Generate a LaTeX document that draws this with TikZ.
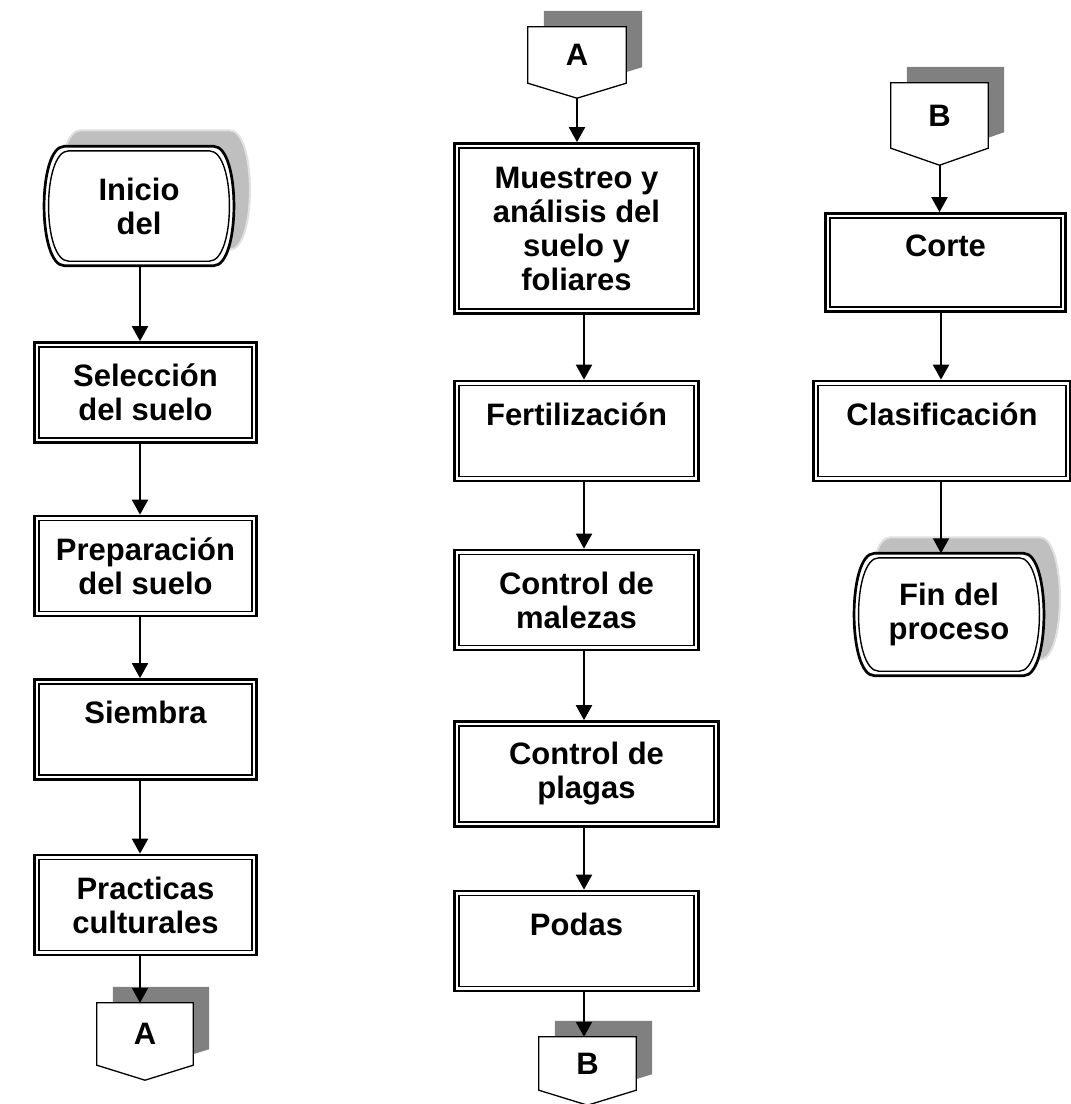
\documentclass[tikz,border=0pt]{standalone}
\usepackage{fontspec}
\setmainfont{Liberation Sans}
\usetikzlibrary{arrows.meta,backgrounds}

% outline of a terminal: node, inset, offset
\newcommand{\termpath}[3]{%
  ([shift={#3},shift={(20pt+#2,-#2)}]#1.north west)
  -- ([shift={#3},shift={(-20pt-#2,-#2)}]#1.north east)
  .. controls ([shift={#3},shift={(7pt-#2,-#2)}]#1.north east)
  and ([shift={#3},shift={(7pt-#2,#2)}]#1.south east)
  .. ([shift={#3},shift={(-20pt-#2,#2)}]#1.south east)
  -- ([shift={#3},shift={(20pt+#2,#2)}]#1.south west)
  .. controls ([shift={#3},shift={(-7pt+#2,#2)}]#1.south west)
  and ([shift={#3},shift={(-7pt+#2,-#2)}]#1.north west)
  .. ([shift={#3},shift={(20pt+#2,-#2)}]#1.north west) -- cycle}

% outline of an off-page connector: node, point depth, offset
\newcommand{\connpath}[3]{%
  ([shift={#3}]#1.north west) -- ([shift={#3}]#1.north east)
  -- ([shift={#3}]#1.south east) -- ([shift={#3},yshift=-#2]#1.south)
  -- ([shift={#3}]#1.south west) -- cycle}

\begin{document}
\begin{tikzpicture}[x=1pt,y=-1pt,
    font=\fontsize{31pt}{34pt}\selectfont\bfseries,
    proc/.style={draw,line width=2.7pt,minimum width=222pt,minimum height=100pt,
      inner sep=0pt,align=center,
      path picture={\draw[line width=1.4pt]
        ([shift={(4.5pt,-4.5pt)}]path picture bounding box.north west) rectangle
        ([shift={(-4.5pt,4.5pt)}]path picture bounding box.south east);}},
    term/.style={minimum width=189pt,minimum height=119pt,inner sep=0pt,align=center},
    conn/.style={minimum width=96pt,inner sep=0pt},
    flow/.style={line width=2pt,-{Triangle[length=15pt,width=16pt]}}]
\useasboundingbox (0,0) rectangle (1071,1104);

% first column
\node[term] (ini) at (139,206) {Inicio\\del};
\node[proc] (sel) at (145.5,392.5) {Selección\\del suelo};
\node[proc] (prep) at (145.5,566) {Preparación\\del suelo};
\node[proc] (siem) at (145.5,729.5) {Siembra\\~};
\node[proc] (prac) at (145.5,905) {Practicas\\culturales};
\node[conn,minimum height=62pt] (ca1) at (145,1034) {A};

% second column
\node[conn,minimum width=98pt,minimum height=56pt] (ca2) at (577,55) {A};
\node[proc,minimum width=244pt,minimum height=170pt] (mue) at (576.5,228.5)
  {Muestreo y\\análisis del\\suelo y\\foliares};
\node[proc,minimum width=244pt] (fert) at (576.5,431) {Fertilización\\~};
\node[proc,minimum width=244pt] (male) at (576.5,600) {Control de\\malezas};
\node[proc,minimum width=264pt,minimum height=105pt] (plag) at (586.5,774) {Control de\\plagas};
\node[proc,minimum width=244pt] (pod) at (576.5,941) {Podas\\~};
\node[conn,minimum width=97pt,minimum height=53pt] (cb2) at (587.5,1063.5) {B};

% third column
\node[conn,minimum width=97pt,minimum height=65pt] (cb3) at (939.5,115.5) {B};
\node[proc,minimum width=240pt,minimum height=98pt] (cor) at (945.5,262.5) {Corte\\~};
\node[proc,minimum width=257pt] (clas) at (942,431) {Clasificación\\~};
\node[term,minimum height=122pt] (fin) at (949,614.5) {Fin del\\proceso};

% arrows
\coordinate (c1) at (140,0);
\coordinate (c2) at (584,0);
\coordinate (c3) at (941,0);
\foreach \src/\dst/\col in {ini/sel/c1,sel/prep/c1,prep/siem/c1,siem/prac/c1,prac/ca1/c1,
    mue/fert/c2,fert/male/c2,male/plag/c2,plag/pod/c2,pod/cb2/c2,
    cor/clas/c3,clas/fin/c3}
  \draw[flow] (\src.south -| \col) -- (\dst.north -| \col);
\draw[flow] ([yshift=-15pt]ca2.south) -- (ca2.south |- mue.north);
\draw[flow] ([yshift=-17pt]cb3.south) -- (cb3.south |- cor.north);

\begin{scope}[on background layer]
  % terminals: shadow and double outline
  \foreach \n in {ini,fin} {
    \filldraw[fill=black!25,draw=black!12,line width=2pt] \termpath{\n}{0pt}{(16pt,16pt)};
    \filldraw[fill=white,line width=2.7pt] \termpath{\n}{0pt}{(0pt,0pt)};
    \draw[line width=1.4pt] \termpath{\n}{4.5pt}{(0pt,0pt)};
  }
  % off-page connectors with their shadow
  \foreach \n/\d in {ca1/15pt,ca2/15pt,cb2/15pt,cb3/17pt} {
    \fill[black!50] \connpath{\n}{\d}{(16pt,16pt)};
    \filldraw[fill=white,line width=1.3pt] \connpath{\n}{\d}{(0pt,0pt)};
  }
\end{scope}
\end{tikzpicture}
\end{document}
